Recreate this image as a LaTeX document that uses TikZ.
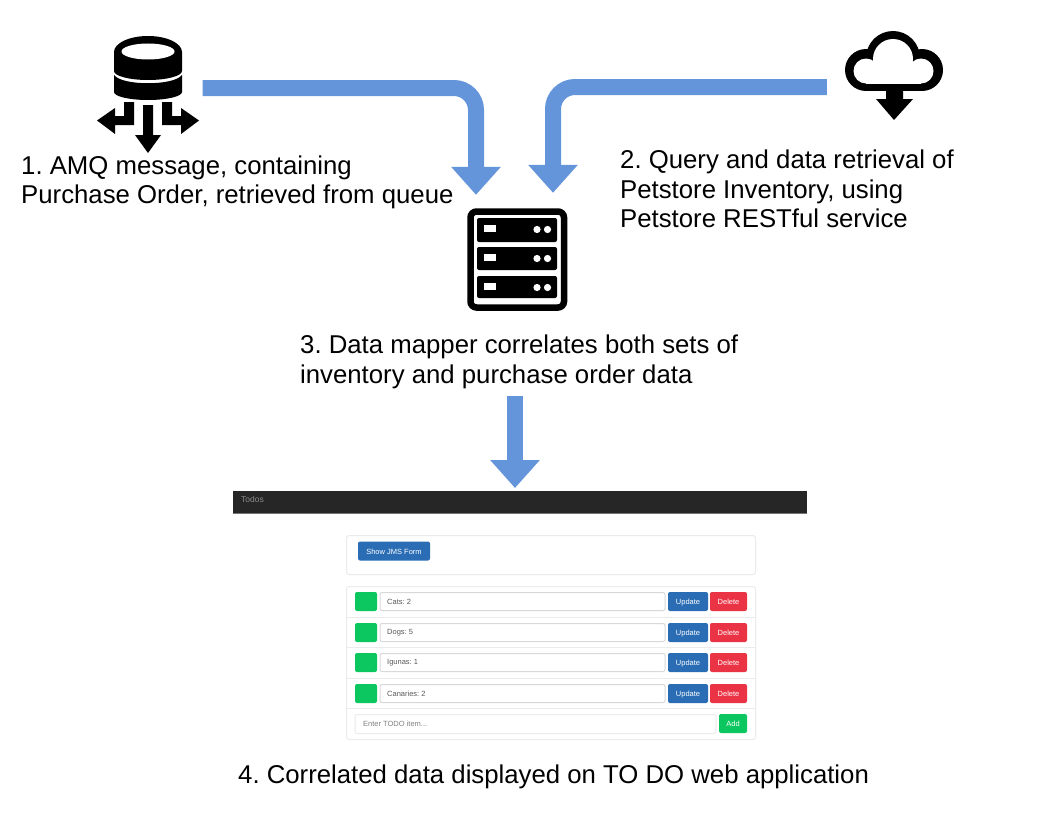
\documentclass[tikz,border=0pt]{standalone}
\usepackage{fontspec}
\setmainfont{Liberation Sans}
\usetikzlibrary{arrows.meta}
\definecolor{flowblue}{HTML}{6495DB}
\definecolor{btnblue}{HTML}{2A6DB5}
\definecolor{btnred}{HTML}{EA3445}
\definecolor{btngreen}{HTML}{0CC65F}
\definecolor{barblack}{HTML}{262626}
\definecolor{edge}{HTML}{EBEBEB}
\definecolor{inputedge}{HTML}{D8D8D8}
\tikzset{
  flow/.style={draw=flowblue,line width=16pt,rounded corners=22pt,
    -{Triangle[width=48pt,length=28pt]}},
  caption/.style={anchor=north west,inner sep=0pt,align=left,text=black,
    font=\fontsize{25.75}{29.5}\selectfont\frenchspacing},
  icon/.style={inner sep=0pt,draw=none},
  panel/.style={draw=edge,fill=white,line width=1pt,rounded corners=2.5pt},
  rowline/.style={draw=edge,line width=1pt},
  ctl/.style={inner sep=0pt,rounded corners=2pt,text=white,text height=6.5pt,text depth=0.5pt,font=\fontsize{7.5}{9}\selectfont},
  bluebtn/.style={ctl,fill=btnblue},
  redbtn/.style={ctl,fill=btnred},
  greenbtn/.style={ctl,fill=btngreen},
  field/.style={draw=inputedge,fill=white,line width=1pt,rounded corners=2pt,inner sep=0pt},
  fieldtext/.style={anchor=west,inner sep=0pt,text=black!65,font=\fontsize{7.5}{9}\selectfont\frenchspacing},
}
\begin{document}
\begin{tikzpicture}[x=1pt,y=-1pt]
\useasboundingbox (0,0) rectangle (1056,816);

% --- anchors for icons
\node[icon,minimum width=103pt,minimum height=117pt] (amq) at (148,95) {};
\node[icon,minimum width=98pt,minimum height=88pt] (cloud) at (894,75) {};
\node[icon,minimum width=100pt,minimum height=103pt] (server) at (517,259.5) {};
\node[icon,minimum width=574pt,minimum height=1pt] (todo) at (520,490.5) {};

% --- database icon
\fill[black] (114,52) arc[start angle=180,end angle=360,x radius=34,y radius=16]
  -- (182,71) arc[start angle=0,end angle=180,x radius=34,y radius=9] -- cycle;
\fill[white] (148,51.5) ellipse[x radius=26.5,y radius=8];
\fill[black] (114,75) .. controls (122,86) and (174,86) .. (182,75)
  -- (182,92) arc[start angle=0,end angle=180,x radius=34,y radius=8] -- cycle;
\fill[black] (143,105) -- (153,105) -- (153,135) -- (161,135) -- (148,153) -- (135,135) -- (143,135) -- cycle;
\fill[black] (124,102) -- (134,102) -- (134,125) -- (115,125) -- (115,134) -- (97,120.5) -- (115,108) -- (115,116) -- (124,116) -- cycle;
\fill[black] (172,102) -- (162,102) -- (162,125) -- (181,125) -- (181,134) -- (199,120.5) -- (181,108) -- (181,116) -- (172,116) -- cycle;

% --- cloud icon
\foreach \cx/\cy/\r in {866/70/21,893/58/27,922/70/21} \fill[black] (\cx,\cy) circle[radius=\r];
\fill[black] (866,60) rectangle (922,91);
\foreach \cx/\cy/\r in {866/71/12.5,893/59/20,921/71/12.5} \fill[white] (\cx,\cy) circle[radius=\r];
\fill[white] (866,65) rectangle (921,83.5);
\fill[black] (886,90) -- (903,90) -- (903,99) -- (913,99) -- (894,120) -- (876,99) -- (886,99) -- cycle;

% --- server icon
\draw[black,line width=6.5pt,rounded corners=6pt] (470.5,211.5) rectangle (564,307.5);
\foreach \n/\t/\b in {a/218/242,b/247/270,c/276/298}{
  \fill[black,rounded corners=2pt] (477,\t) rectangle (557,\b);
  \fill[white] (483.5,\t+7) rectangle (496,\t+14);
  \fill[white] (537,\t+11.5) circle[radius=3.6];
  \fill[white] (547.5,\t+11.5) circle[radius=3.6];
}

% --- flows
\draw[flow] ([xshift=3pt,yshift=7pt]amq.east) -- ([xshift=-41pt,yshift=7pt]server.north |- amq.east) -- ([xshift=-41pt,yshift=13pt]server.north);
\draw[flow] ([xshift=-18pt,yshift=-12pt]cloud.west) -- ([xshift=36pt,yshift=-12pt]server.north |- cloud.west) -- ([xshift=36pt,yshift=15pt]server.north);
\node[icon,minimum width=1pt,minimum height=1pt] (s3) at (515,396) {};
\draw[flow,rounded corners=0pt] (s3.center) -- ([xshift=-5pt,yshift=2.5pt]todo.center);

% --- captions
\node[caption] (t1) at (21,155.5) {1. AMQ message, containing\\Purchase Order, retrieved from queue};
\node[caption] (t2) at (620,150) {2. Query and data retrieval of\\Petstore Inventory, using\\Petstore RESTful service};
\node[caption] (t3) at (300,335) {3. Data mapper correlates both sets of\\inventory and purchase order data};
\node[caption] (t4) at (238,765) {4. Correlated data displayed on TO DO web application};

% --- web application screenshot
\fill[barblack] (233,491) rectangle (807,513);
\draw[black!55,line width=1pt] (233,513.5) -- (807,513.5);
\node[anchor=west,inner sep=0pt,text=black!45,font=\fontsize{8.5}{10}\selectfont] (brand) at (241,499) {Todos};

\draw[panel] (346.5,535.5) rectangle (755.5,574.5);
\node[bluebtn,minimum width=72pt,minimum height=19pt] (jms) at (394,551) {Show JMS Form};

\draw[panel] (346.5,586.5) rectangle (755.5,739.5);
\foreach \y in {617,647,678,708} \draw[rowline] (346.5,\y) -- (755.5,\y);

\foreach \n/\y/\lab in {1/601.5/{Cats: 2},2/632.5/{Dogs: 5},3/662.5/{Igunas: 1},4/693.5/{Canaries: 2}}{
  \node[greenbtn,minimum width=22pt,minimum height=19pt] (g\n) at (366,\y) {};
  \node[field,minimum width=285pt,minimum height=18pt] (f\n) at (522.5,\y) {};
  \node[fieldtext] (l\n) at (387,\y) {\lab};
  \node[bluebtn,minimum width=40pt,minimum height=19pt] (u\n) at (688,\y) {Update};
  \node[redbtn,minimum width=37pt,minimum height=19pt] (d\n) at (728.5,\y) {Delete};
}
\node[field,draw=edge,minimum width=361pt,minimum height=19pt] (newitem) at (535.5,724) {};
\node[fieldtext,text=black!50] (newtext) at (363,724) {Enter TODO item...};
\node[greenbtn,minimum width=28pt,minimum height=19pt] (add) at (733,723.5) {Add};
\end{tikzpicture}
\end{document}
